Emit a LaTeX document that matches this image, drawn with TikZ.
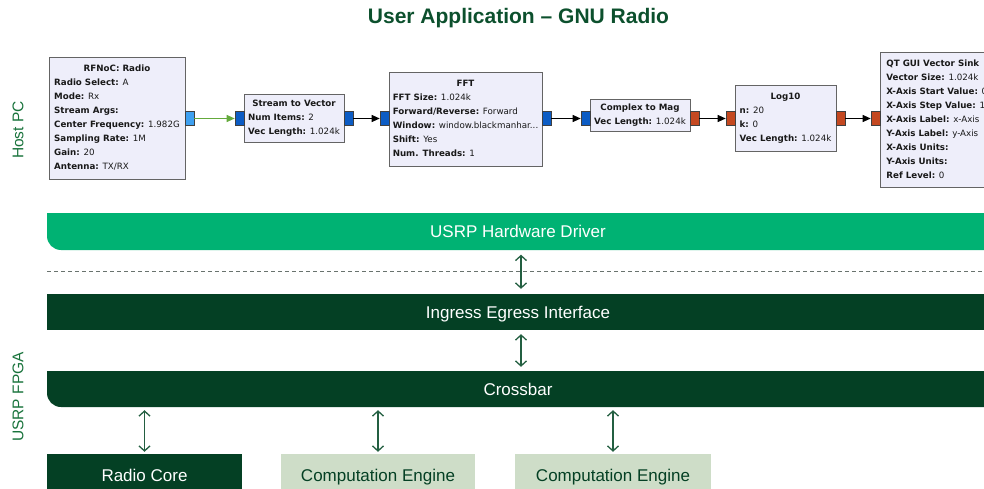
\documentclass[tikz,border=0pt]{standalone}
\usepackage{fontspec}
\setmainfont{Liberation Sans}
\newfontfamily\grcfont{DejaVu Sans}
\usetikzlibrary{arrows.meta,calc}
\definecolor{darkg}{RGB}{4,64,36}
\definecolor{hwdg}{RGB}{0,178,115}
\definecolor{sage}{RGB}{206,221,200}
\definecolor{arrowc}{RGB}{35,95,65}
\definecolor{titlec}{RGB}{12,80,45}
\definecolor{sidec}{RGB}{25,115,60}
\definecolor{dashc}{RGB}{105,115,110}
\definecolor{blkfill}{RGB}{238,238,250}
\definecolor{blkline}{RGB}{100,100,100}
\definecolor{cblue}{RGB}{12,92,196}
\definecolor{lblue}{RGB}{62,160,240}
\definecolor{forange}{RGB}{196,72,32}
\definecolor{flowg}{RGB}{100,170,60}
\newcommand\gkv[2]{\textbf{#1:} #2}
\newcommand\gtitle[1]{\multicolumn{1}{@{}c@{}}{\textbf{#1}}}
\begin{document}
\begin{tikzpicture}[x=1pt,y=-1pt,
  titletext/.style={font=\fontsize{21}{25}\selectfont\bfseries, text=titlec, inner sep=0},
  side/.style={font=\fontsize{15.5}{18}\selectfont, text=sidec, rotate=90, inner sep=0},
  blk/.style={draw=blkline, fill=blkfill, line width=0.8pt, inner sep=0,
    font=\grcfont\fontsize{8.7}{14}\selectfont, text=black!90},
  port/.style={draw=black!75, line width=0.6pt, minimum width=9, minimum height=14, inner sep=0},
  flow/.style={draw=black, line width=0.9pt, -{Triangle[length=8pt,width=7pt]}},
  bartext/.style={font=\fontsize{17}{20}\selectfont, text=white, inner sep=0, minimum width=939, minimum height=36, text height=15.8pt, text depth=3.6pt},
  lowbox/.style={font=\fontsize{17}{20}\selectfont, inner sep=0, minimum height=42, text height=15.8pt, text depth=3.6pt},
  dbl/.style={draw=arrowc, line width=1.3pt, {Straight Barb[length=5pt,width=11pt]}-{Straight Barb[length=5pt,width=11pt]}},
]
\useasboundingbox (0,0) rectangle (984,489);
\clip (0,0) rectangle (984,489);

% title and side labels
\node[titletext] (title) at (518.5,18) {User Application – GNU Radio};
\node[side] (hostpc) at (18,130) {Host PC};
\node[side] (fpga) at (18,397) {USRP FPGA};

% GNU Radio blocks
\node[blk, minimum width=136, minimum height=122] (radio) at (117,118) {%
  \begin{tabular}{@{}l@{}}\gtitle{RFNoC: Radio}\\ \gkv{Radio Select}{A}\\ \gkv{Mode}{Rx}\\ \textbf{Stream Args:}\\ \gkv{Center Frequency}{1.982G}\\ \gkv{Sampling Rate}{1M}\\ \gkv{Gain}{20}\\ \gkv{Antenna}{TX/RX}\end{tabular}};
\node[blk, minimum width=100, minimum height=48] (s2v) at (294,118) {%
  \begin{tabular}{@{}l@{}}\gtitle{Stream to Vector}\\ \gkv{Num Items}{2}\\ \gkv{Vec Length}{1.024k}\end{tabular}};
\node[blk, minimum width=153, minimum height=94] (fft) at (465.5,119) {%
  \begin{tabular}{@{}l@{}}\gtitle{FFT}\\ \gkv{FFT Size}{1.024k}\\ \gkv{Forward/Reverse}{Forward}\\ \gkv{Window}{window.blackmanhar...}\\ \gkv{Shift}{Yes}\\ \gkv{Num. Threads}{1}\end{tabular}};
\node[blk, minimum width=100, minimum height=32] (c2m) at (640,115) {%
  \begin{tabular}{@{}l@{}}\gtitle{Complex to Mag}\\ \gkv{Vec Length}{1.024k}\end{tabular}};
\node[blk, minimum width=101, minimum height=66] (log) at (785.5,118) {%
  \begin{tabular}{@{}l@{}}\gtitle{Log10}\\ \gkv{n}{20}\\ \gkv{k}{0}\\ \gkv{Vec Length}{1.024k}\end{tabular}};
\node[blk, minimum height=135, inner xsep=6pt, anchor=north west] (sink) at (880,52) {%
  \begin{tabular}{@{}l@{}}\textbf{QT GUI Vector Sink}\\ \gkv{Vector Size}{1.024k}\\ \gkv{X-Axis Start Value}{0}\\ \gkv{X-Axis Step Value}{1}\\ \gkv{X-Axis Label}{x-Axis}\\ \gkv{Y-Axis Label}{y-Axis}\\ \textbf{X-Axis Units:}\\ \textbf{Y-Axis Units:}\\ \gkv{Ref Level}{0}\end{tabular}};

% ports
\node[port, fill=lblue] (radioout) at (189.5,118.5) {};
\node[port, fill=cblue] (s2vin) at (239.5,118.5) {};
\node[port, fill=cblue] (s2vout) at (348.5,118.5) {};
\node[port, fill=cblue] (fftin) at (384.5,118.5) {};
\node[port, fill=cblue] (fftout) at (546.5,118.5) {};
\node[port, fill=cblue] (c2min) at (585.5,118.5) {};
\node[port, fill=forange] (c2mout) at (694.5,118.5) {};
\node[port, fill=forange] (login) at (730.5,118.5) {};
\node[port, fill=forange] (logout) at (840.5,118.5) {};
\node[port, fill=forange] (sinkin) at (875.5,118.5) {};

% flow connectors
\draw[flow, draw=flowg] (radioout) -- (s2vin);
\draw[flow] (s2vout) -- (fftin);
\draw[flow] (fftout) -- (c2min);
\draw[flow] (c2mout) -- (login);
\draw[flow] (logout) -- (sinkin);

% bars
\fill[hwdg] (47,213) -- (986,213) -- (986,250) -- (61,250) arc[start angle=90, end angle=180, radius=14] -- cycle;
\node[bartext] (hwd) at (518,231.5) {USRP Hardware Driver};
\draw[dashc, line width=1pt, dash pattern=on 4pt off 3pt] (47,271) -- (984,271);
\fill[darkg] (47,294) rectangle (986,330);
\node[bartext] (ieg) at (518,312) {Ingress Egress Interface};
\fill[darkg] (47,371) -- (986,371) -- (986,407) -- (61,407) arc[start angle=90, end angle=180, radius=14] -- cycle;
\node[bartext] (xbar) at (518,389) {Crossbar};

% lower blocks
\node[lowbox, fill=darkg, text=white, minimum width=195] (rc) at (144.5,475) {Radio Core};
\node[lowbox, fill=sage, text=darkg, minimum width=194] (ce1) at (378,475) {Computation Engine};
\node[lowbox, fill=sage, text=darkg, minimum width=196] (ce2) at (613,475) {Computation Engine};

% double arrows
\coordinate (ax) at (521,0);
\draw[dbl, shorten <=5pt, shorten >=5pt] (hwd.south -| ax) -- (ieg.north -| ax);
\draw[dbl, shorten <=4pt, shorten >=4pt] (ieg.south -| ax) -- (xbar.north -| ax);
\draw[dbl, shorten <=3pt, shorten >=2pt] (xbar.south -| rc.north) -- (rc.north);
\draw[dbl, shorten <=3pt, shorten >=2pt] (xbar.south -| ce1.north) -- (ce1.north);
\draw[dbl, shorten <=3pt, shorten >=2pt] (xbar.south -| ce2.north) -- (ce2.north);
\end{tikzpicture}
\end{document}
